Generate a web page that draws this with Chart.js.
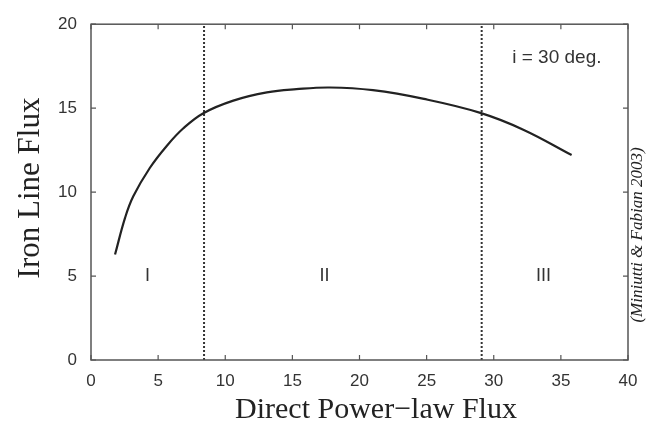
<!DOCTYPE html>
<html>
<head>
<meta charset="utf-8">
<script src="https://cdn.jsdelivr.net/npm/chart.js@4/dist/chart.umd.min.js"></script>
<style>
html,body{margin:0;padding:0;background:#fff;}
#wrap{width:650px;height:429px;position:relative;}
</style>
</head>
<body>
<div id="wrap"><canvas id="c" width="650" height="429"></canvas></div>
<script>
// Curve
const powerLawFlux = [1.79, 2.53, 3.15, 4.39, 5.64, 6.88, 8.37, 10.6, 13.1, 15.3, 17.8, 21.0, 24.8, 29.0, 32.2, 35.8];
const ironLineFlux = [6.28, 8.45, 9.75, 11.45, 12.75, 13.8, 14.7, 15.45, 15.94, 16.13, 16.23, 16.07, 15.55, 14.72, 13.72, 12.21];
// Region boundaries
const boundaries = [8.42, 29.1];
const regionLabels = ["I", "II", "III"];
const regionLabelX = [4.2, 17.4, 33.7];
const regionLabelY = 5.0;
const xTicks = [0, 5, 10, 15, 20, 25, 30, 35, 40];
const yTicks = [0, 5, 10, 15, 20];
const annotation = "i = 30 deg.";
const annotationPos = [34.7, 18.0];
const sideNote = "(Miniutti & Fabian 2003)";
const xTitle = "Direct Power\u2212law Flux";
const yTitle = "Iron Line Flux";

const curve = powerLawFlux.map((x, i) => ({x: x, y: ironLineFlux[i]}));
const vlineSets = boundaries.map(b => ({
  data: [{x: b, y: 0}, {x: b, y: 20}],
  showLine: true, borderColor: '#333', borderWidth: 2, borderDash: [2, 2],
  pointRadius: 0, fill: false, tension: 0
}));

const decor = {
  id: 'decor',
  afterDraw(chart) {
    const ctx = chart.ctx, a = chart.chartArea;
    const xs = chart.scales.x, ys = chart.scales.y;
    ctx.save();
    // box
    ctx.strokeStyle = '#555'; ctx.lineWidth = 1.5;
    ctx.strokeRect(a.left, a.top, a.right - a.left, a.bottom - a.top);
    // inward ticks on all sides
    ctx.lineWidth = 1.2;
    const tl = 5;
    xTicks.forEach(v => {
      const px = xs.getPixelForValue(v);
      ctx.beginPath();
      ctx.moveTo(px, a.bottom); ctx.lineTo(px, a.bottom - tl);
      ctx.moveTo(px, a.top); ctx.lineTo(px, a.top + tl);
      ctx.stroke();
    });
    yTicks.forEach(v => {
      const py = ys.getPixelForValue(v);
      ctx.beginPath();
      ctx.moveTo(a.left, py); ctx.lineTo(a.left + tl, py);
      ctx.moveTo(a.right, py); ctx.lineTo(a.right - tl, py);
      ctx.stroke();
    });
    // region labels
    ctx.fillStyle = '#333';
    ctx.font = '18px "Liberation Sans", Arial, sans-serif';
    ctx.textAlign = 'center'; ctx.textBaseline = 'middle';
    regionLabels.forEach((t, i) => {
      ctx.fillText(t, xs.getPixelForValue(regionLabelX[i]), ys.getPixelForValue(regionLabelY));
    });
    // annotation
    ctx.font = '19px "Liberation Sans", Arial, sans-serif';
    ctx.fillText(annotation, xs.getPixelForValue(annotationPos[0]), ys.getPixelForValue(annotationPos[1]));
    // axis titles
    ctx.fillStyle = '#222';
    ctx.font = '30px "Liberation Serif", "Times New Roman", serif';
    ctx.fillText(xTitle, 376, 410);
    ctx.save();
    ctx.translate(31, 188);
    ctx.rotate(-Math.PI / 2);
    ctx.font = '31px "Liberation Serif", "Times New Roman", serif';
    ctx.fillText(yTitle, 0, 0);
    ctx.restore();
    // side note
    ctx.save();
    ctx.font = 'italic 17px "Liberation Serif", "Times New Roman", serif';
    ctx.translate(638, 235);
    ctx.rotate(-Math.PI / 2);
    ctx.fillText(sideNote, 0, 0);
    ctx.restore();
    ctx.restore();
  }
};

new Chart(document.getElementById('c'), {
  type: 'scatter',
  data: {
    datasets: [
      {data: curve, showLine: true, borderColor: '#222', borderWidth: 2.2,
       pointRadius: 0, fill: false, tension: 0.4},
      ...vlineSets
    ]
  },
  options: {
    responsive: false, animation: false,
    layout: {padding: {top: 15, right: 22, left: 0, bottom: 0}},
    plugins: {legend: {display: false}, tooltip: {enabled: false}},
    scales: {
      x: {
        type: 'linear', min: 0, max: 40,
        grid: {display: false, drawTicks: false}, border: {display: false},
        afterFit(s) { s.height = 69; },
        afterBuildTicks(s) { s.ticks = xTicks.map(v => ({value: v})); },
        ticks: {padding: 11, color: '#333', maxRotation: 0,
                font: {family: '"Liberation Sans", Arial, sans-serif', size: 17}}
      },
      y: {
        type: 'linear', min: 0, max: 20,
        grid: {display: false, drawTicks: false}, border: {display: false},
        afterFit(s) { s.width = 91; },
        afterBuildTicks(s) { s.ticks = yTicks.map(v => ({value: v})); },
        ticks: {padding: 14, color: '#333',
                font: {family: '"Liberation Sans", Arial, sans-serif', size: 17}}
      }
    }
  },
  plugins: [decor]
});
</script>
</body>
</html>
